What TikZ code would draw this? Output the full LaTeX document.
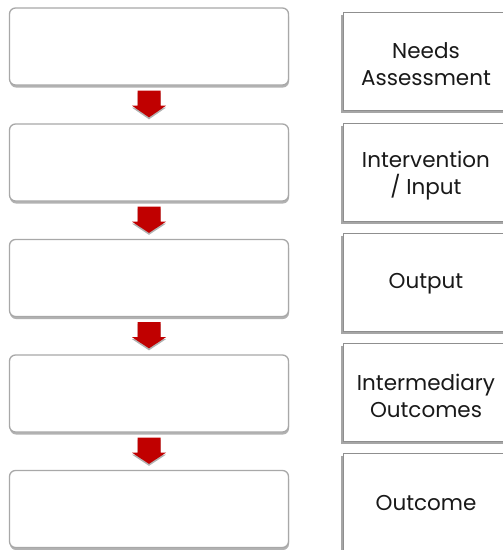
\documentclass[tikz,border=0pt]{standalone}
\usepackage{fontspec}
\setmainfont{Poppins}
\usetikzlibrary{shadows,calc}
\definecolor{arrowred}{HTML}{C00000}
\definecolor{boxline}{HTML}{A8A8A8}
\tikzset{
  stagebox/.style={draw=boxline, line width=1.3pt, fill=white, rounded corners=6pt,
    minimum width=279pt, minimum height=77pt, inner sep=0pt,
    drop shadow={shadow xshift=0.5pt, shadow yshift=-2.5pt, opacity=0.3, fill=black}},
  labelbox/.style={draw=boxline!85!black, line width=1pt, fill=white,
    minimum width=166pt, minimum height=98pt, inner sep=0pt,
    drop shadow={shadow xshift=-1.8pt, shadow yshift=-2.5pt, opacity=0.35, fill=black}},
  stagetext/.style={align=center, inner sep=0pt, yshift=-3pt,
    font=\fontsize{21.5}{27}\selectfont, text=black!90},
  flowarrow/.style={fill=arrowred, draw=none,
    drop shadow={shadow xshift=0pt, shadow yshift=-2pt, opacity=0.3, fill=black}}
}
\begin{document}
\begin{tikzpicture}[x=1pt,y=-1pt]
\useasboundingbox (0,0) rectangle (503,550);
\begin{scope}
\clip (0,0) rectangle (503,550);
% empty stage boxes on the left
\node[stagebox] (L1) at (149,46.5) {};
\node[stagebox] (L2) at (149,162.5) {};
\node[stagebox] (L3) at (149,278) {};
\node[stagebox] (L4) at (149,393.5) {};
\node[stagebox] (L5) at (149,509) {};
% stage names on the right
\node[labelbox, label={[stagetext]center:{Needs\\Assessment}}] (R1) at (426,61.5) {};
\node[labelbox, label={[stagetext]center:{Intervention\\/ Input}}] (R2) at (426,172.5) {};
\node[labelbox, label={[stagetext, yshift=1.5pt]center:{Output}}] (R3) at (426,282.5) {};
\node[labelbox, label={[stagetext]center:{Intermediary\\Outcomes}}] (R4) at (426,392.5) {};
\node[labelbox, label={[stagetext, yshift=1.5pt]center:{Outcome}}] (R5) at (426,502) {};
% block arrows between consecutive stages
\foreach \a/\b in {L1/L2,L2/L3,L3/L4,L4/L5}{
  \path[flowarrow] ($(\a.south)+(-11.5,5)$) -- ($(\a.south)+(11.5,5)$)
    -- ($(\a.south)+(11.5,20)$) -- ($(\a.south)+(17,20)$)
    -- ($(\b.north)+(0,-6)$) -- ($(\a.south)+(-17,20)$)
    -- ($(\a.south)+(-11.5,20)$) -- cycle;
}
\end{scope}
\end{tikzpicture}
\end{document}
